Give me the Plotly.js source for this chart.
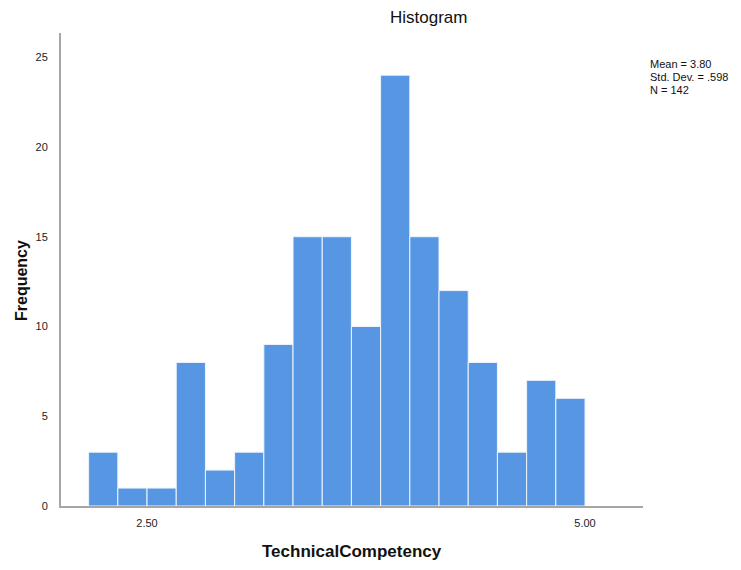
<!DOCTYPE html>
<html>
<head>
<meta charset="utf-8">
<script src="https://cdn.plot.ly/plotly-3.0.1.min.js"></script>
<style>html,body{margin:0;padding:0;background:#fff;}#chart{width:741px;height:570px;}</style>
</head>
<body>
<div id="chart"></div>
<script>
// Histogram data (SPSS output): bin edges start and width, counts per bin
var binStart = 2.1667;
var binWidth = 1 / 6;
var counts = [3, 1, 1, 8, 2, 3, 9, 15, 15, 10, 24, 15, 12, 8, 3, 7, 6];
var xTickVals = [2.5, 5.0];
var xTickText = ["2.50", "5.00"];
var yTickVals = [0, 5, 10, 15, 20, 25];
var statsLines = ["Mean = 3.80", "Std. Dev. = .598", "N = 142"];

var centers = counts.map(function (c, i) { return binStart + binWidth * (i + 0.5); });

var trace = {
  type: "bar",
  x: centers,
  y: counts,
  width: binWidth,
  marker: { color: "#5696e3", line: { color: "#eef4fc", width: 1 } },
  hoverinfo: "x+y"
};

var font = "Liberation Sans, Arial, sans-serif";

var annotations = [
  { text: "Histogram", xref: "paper", yref: "paper", x: (428 - 61) / 582, y: 1, yshift: 16,
    xanchor: "center", yanchor: "middle", showarrow: false,
    font: { family: font, size: 17, color: "#111" } },
  { text: "<b>TechnicalCompetency</b>", xref: "paper", yref: "paper", x: 0.5, y: 0, yshift: -45,
    xanchor: "center", yanchor: "middle", showarrow: false,
    font: { family: font, size: 17, color: "#111" } },
  { text: "<b>Frequency</b>", xref: "paper", yref: "paper", x: 0, xshift: -40, y: (506 - 281) / 473,
    xanchor: "center", yanchor: "middle", textangle: -90, showarrow: false,
    font: { family: font, size: 16, color: "#111" } }
];
statsLines.forEach(function (s, i) {
  annotations.push({ text: s, xref: "paper", yref: "paper", x: 1, xshift: 5, y: 1, yshift: -31 - 13 * i,
    xanchor: "left", yanchor: "middle", align: "left", showarrow: false,
    font: { family: font, size: 11, color: "#111" } });
});

var layout = {
  width: 741,
  height: 570,
  margin: { l: 61, r: 98, t: 33, b: 64 },
  paper_bgcolor: "#ffffff",
  plot_bgcolor: "#ffffff",
  showlegend: false,
  bargap: 0,
  xaxis: {
    range: [2.009, 5.331],
    tickvals: xTickVals,
    ticktext: xTickText,
    showgrid: false,
    zeroline: false,
    showline: true,
    linecolor: "#a6a6a6",
    linewidth: 2,
    ticks: "outside",
    ticklen: 6,
    tickcolor: "rgba(0,0,0,0)",
    tickfont: { family: font, size: 11, color: "#222" }
  },
  yaxis: {
    range: [0, 26.35],
    tickvals: yTickVals,
    showgrid: false,
    zeroline: false,
    showline: true,
    linecolor: "#a6a6a6",
    linewidth: 2,
    ticks: "outside",
    ticklen: 9,
    tickcolor: "rgba(0,0,0,0)",
    tickfont: { family: font, size: 11, color: "#222" }
  },
  annotations: annotations
};

Plotly.newPlot("chart", [trace], layout, { displayModeBar: false, staticPlot: true });
</script>
</body>
</html>
